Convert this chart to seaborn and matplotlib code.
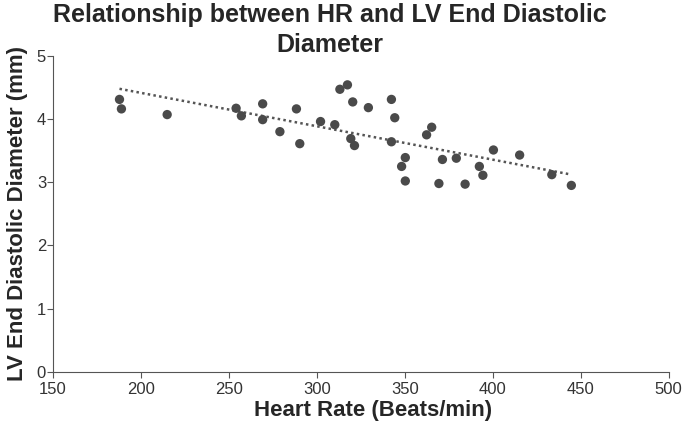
import numpy as np
import pandas as pd
import matplotlib
matplotlib.use("Agg")
import matplotlib.pyplot as plt
import seaborn as sns

# heart rate (beats/min) and LV end diastolic diameter (mm)
heart_rate = [187.8, 188.9, 214.9, 254.1, 257.1, 269.2, 269.2, 279.0, 288.4, 290.3,
              302.1, 310.2, 313.1, 317.4, 320.4, 319.3, 321.4, 329.3, 342.4, 344.3,
              342.4, 350.3, 348.2, 350.3, 362.4, 365.3, 371.4, 369.4, 379.3, 384.3,
              392.4, 394.4, 400.4, 415.3, 433.6, 444.7]
lv_diameter = [4.31, 4.16, 4.07, 4.17, 4.05, 4.24, 3.99, 3.80, 4.16, 3.61,
               3.96, 3.91, 4.47, 4.54, 4.27, 3.69, 3.58, 4.18, 4.31, 4.02,
               3.64, 3.39, 3.25, 3.02, 3.75, 3.87, 3.36, 2.98, 3.38, 2.97,
               3.25, 3.11, 3.51, 3.43, 3.12, 2.95]

x_ticks = [150, 200, 250, 300, 350, 400, 450, 500]
y_ticks = [0, 1, 2, 3, 4, 5]

df = pd.DataFrame({"hr": heart_rate, "lvedd": lv_diameter})

sns.set_style("ticks")
plt.rcParams["font.family"] = ["Liberation Sans Narrow", "Liberation Sans", "DejaVu Sans"]

fig = plt.figure(figsize=(6.84, 4.29), dpi=100)
ax = fig.add_axes([0.0775, 0.133, 0.9, 0.737])

sns.scatterplot(data=df, x="hr", y="lvedd", ax=ax, color="#4a4a4a",
                s=45, edgecolor="none", zorder=3)
sns.regplot(data=df, x="hr", y="lvedd", ax=ax, scatter=False, ci=None,
            line_kws=dict(color="#555555", lw=1.8, ls=(0, (1, 1.3))))

ax.set_xlim(150, 500)
ax.set_ylim(0, 5)
ax.set_xticks(x_ticks)
ax.set_yticks(y_ticks)
ax.tick_params(axis="both", labelsize=12, length=4, width=0.8,
               color="#555555", labelcolor="#333333", pad=1)
ax.tick_params(axis="x", pad=3)
for side in ["top", "right"]:
    ax.spines[side].set_visible(False)
for side in ["left", "bottom"]:
    ax.spines[side].set_color("#555555")
    ax.spines[side].set_linewidth(0.8)

ax.set_xlabel("Heart Rate (Beats/min)", fontsize=16, fontweight="bold",
              color="#262626")
ax.xaxis.set_label_coords(0.52, -0.09)
ax.set_ylabel("LV End Diastolic Diameter (mm)", fontsize=16, fontweight="bold",
              color="#262626", labelpad=6)

fig.text(0.482, 0.993, "Relationship between HR and LV End Diastolic\nDiameter",
         ha="center", va="top", fontsize=18, fontweight="bold", color="#262626",
         linespacing=1.3)

fig.savefig("out.png", dpi=100)
